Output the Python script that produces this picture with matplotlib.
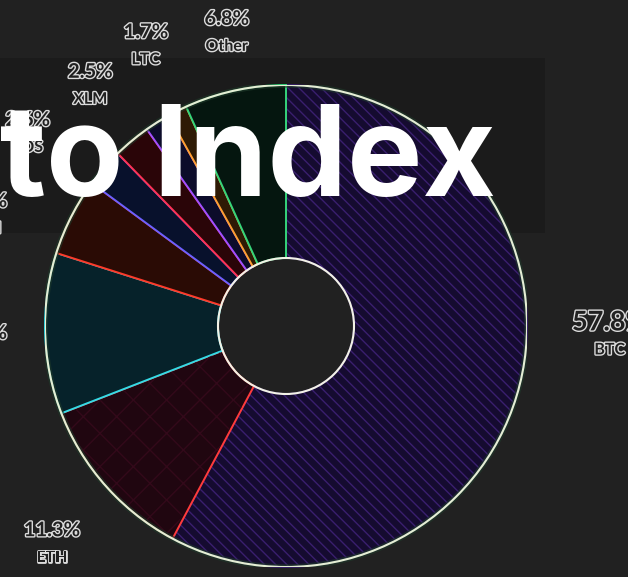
import numpy as np
import matplotlib
matplotlib.use('Agg')
import matplotlib.pyplot as plt
from matplotlib.patches import Wedge, Circle, Rectangle
import matplotlib.patheffects as pe

# index weights (%), clockwise from 12 o'clock
coins = ['BTC', 'ETH', 'XRP', 'BCH', 'EOS', 'XLM', 'LTC', 'XMR', 'Other']
weights = [57.8, 11.3, 10.8, 5.2, 2.6, 2.5, 1.7, 1.3, 6.8]

face_colors = ['#150b30', '#200610', '#06222a', '#2a0b05', '#08112c',
               '#2a0508', '#0c0c2a', '#2e1a05', '#05160f']
edge_colors = ['#3a1f6e', '#ff3b3b', '#35dbe6', '#ff3a2a', '#6c60ff',
               '#ff3355', '#a050ff', '#ffa030', '#35d47a']

# label placement tweaks (degrees off the slice middle, radius in pie radii)
label_nudge = [-12.2, -1.4, -2.1, -6.8, -4.4, 0.6, 5.6, 0.0, 0.8]
label_rad = [1.344, 1.328, 1.278, 1.332, 1.336, 1.286, 1.299, 1.3, 1.241]
min_label = 1.5

BG = '#212121'
W, H = 628, 577

fig = plt.figure(figsize=(W / 100, H / 100), dpi=100, facecolor=BG)

# dark title panel, sits behind the chart
fig.add_artist(Rectangle((-0.5, (H - 233) / H), 0.5 + 545 / W, 175 / H,
                         transform=fig.transFigure, facecolor='#1b1b1b',
                         edgecolor='none', zorder=-1))

ax = fig.add_axes([45 / W, 10 / H, 482 / W, 482 / H])

plt.rcParams['hatch.linewidth'] = 1.0
inner = 68 / 241.0
wedges, _ = ax.pie(weights, startangle=90, counterclock=False, radius=1,
                   colors=face_colors,
                   wedgeprops=dict(width=1 - inner, linewidth=1.4))
for w, ec in zip(wedges, edge_colors):
    w.set_edgecolor(ec)
# BTC stripes: hatch takes the (dim) edge colour, neighbours draw over its edges
wedges[0].set_hatch('\\\\\\')

# pie() resets the limits, so set them afterwards
ax.set_xlim(-1, 1)
ax.set_ylim(-1, 1)
ax.set_aspect('equal')
ax.axis('off')
ax.patch.set_visible(False)

# faint diamond texture on ETH, kept off its borders
e = wedges[1]
ax.add_patch(Wedge(e.center, e.r - 0.01, e.theta1 + 0.6, e.theta2 - 0.6,
                   width=e.width - 0.02, facecolor='none', edgecolor='#33091a',
                   hatch='x', linewidth=0, zorder=e.get_zorder() + 0.1))

# glowing rims
ax.add_patch(Circle((0, 0), 1, fill=False, edgecolor='#1f3a2a', linewidth=4, alpha=0.6, zorder=5))
ax.add_patch(Circle((0, 0), 1, fill=False, edgecolor='#e4eed4', linewidth=1.5, zorder=6))
ax.add_patch(Circle((0, 0), inner, fill=False, edgecolor='#f2f2e6', linewidth=1.5, zorder=6))

# outlined labels
cum = np.cumsum([0] + weights[:-1])
total = float(sum(weights))
outline = [pe.withStroke(linewidth=2.0, foreground='#dcdcdc')]
for i, (name, v) in enumerate(zip(coins, weights)):
    if v < min_label:
        continue
    mid = (cum[i] + v / 2) / total * 360 + label_nudge[i]
    ang = np.deg2rad(90 - mid)
    x, y = label_rad[i] * np.cos(ang), label_rad[i] * np.sin(ang)
    big = name == 'BTC'
    ax.annotate(f'{v:.1f}%', xy=(x, y), xytext=(0, 14), textcoords='offset pixels',
                ha='center', va='center', fontsize=19.5 if big else 14.5,
                family='Lato', weight='bold', color=BG,
                path_effects=outline, annotation_clip=False, zorder=8)
    ax.annotate(name, xy=(x, y), xytext=(0, -14), textcoords='offset pixels',
                ha='center', va='center', fontsize=11.5,
                family='Lato', weight='bold', color=BG,
                path_effects=outline, annotation_clip=False, zorder=8)

fig.text(496 / W, (H - 195) / H, 'Crypto Index', ha='right', va='baseline',
         fontsize=91, family='Inter', weight='bold', color='white', zorder=10)

fig.savefig('out.png', dpi=100, facecolor=BG)
